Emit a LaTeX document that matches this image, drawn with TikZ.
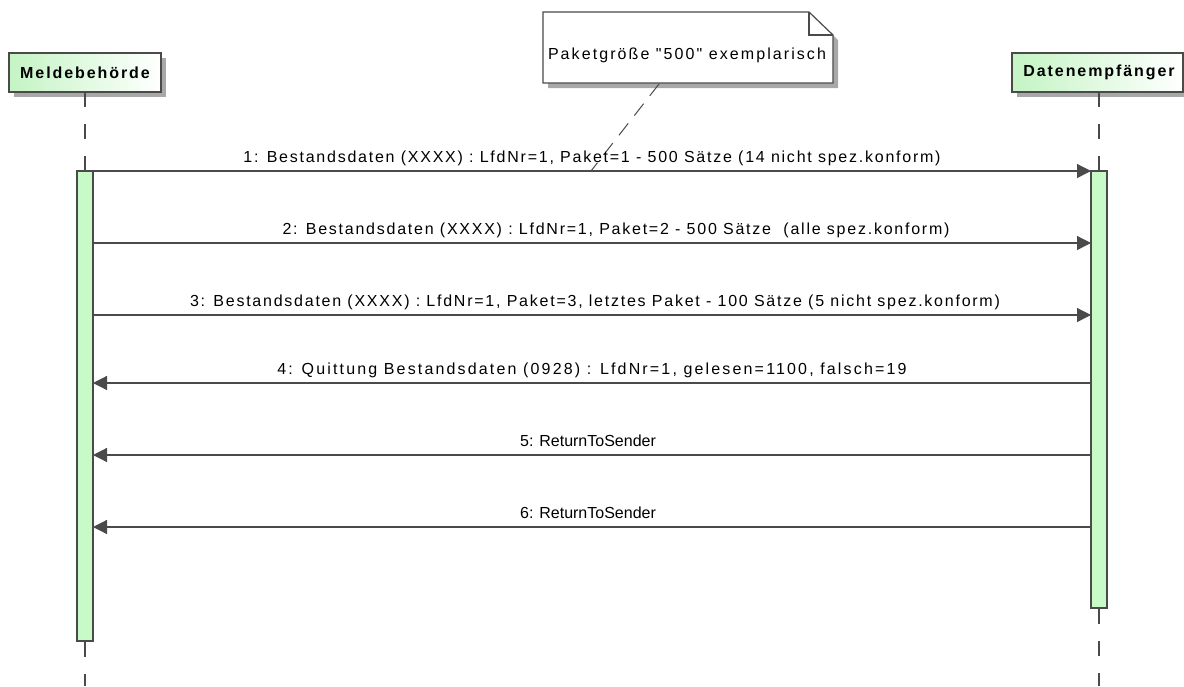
\documentclass[tikz,border=0pt]{standalone}
\usepackage{fontspec}
\setmainfont{Liberation Sans}
\newfontfamily\msgfont[LetterSpace=11]{Liberation Sans}
\newfontfamily\msgwidefont[LetterSpace=13.5]{Liberation Sans}
\newfontfamily\msgplainfont{Liberation Sans}
\newfontfamily\notefont[LetterSpace=13]{Liberation Sans}
\newfontfamily\hdrfont[LetterSpace=12]{Liberation Sans Bold}
\usetikzlibrary{arrows.meta}
\definecolor{lncol}{HTML}{4A4A4A}
\definecolor{actfill}{HTML}{C8FAC8}
\definecolor{hdrgreen}{HTML}{C4F4C4}
\definecolor{shadowcol}{HTML}{A8A8A8}
\tikzset{
  lifeline/.style={draw=lncol, line width=1.2pt, dash pattern=on 15pt off 17pt},
  actbox/.style={draw=lncol, fill=actfill, line width=1.2pt},
  msg/.style={draw=lncol, line width=1.2pt, -{Triangle[length=14pt,width=14pt]}},
  msglabel/.style={font=\msgfont\fontsize{16}{18}\selectfont, anchor=base, inner sep=0pt},
  hdrlabel/.style={font=\hdrfont\fontsize{16}{18}\selectfont, inner sep=0pt},
  notelink/.style={draw=lncol, line width=1pt, dash pattern=on 15pt off 10pt},
}
\begin{document}
\begin{tikzpicture}[x=1pt,y=-1pt]
\useasboundingbox (0,0) rectangle (1184,686);
% ---- left header ----
\fill[shadowcol] (14,58) rectangle (166,97);
\shade[left color=hdrgreen, right color=white] (9,53) rectangle (161,92);
\draw[lncol, line width=1.2pt] (9,53) rectangle (161,92);
\node[hdrlabel] (mbh) at (85,72.5) {Meldebehörde};
% ---- right header ----
\fill[shadowcol] (1017,58) rectangle (1188,97);
\shade[left color=hdrgreen, right color=white] (1012,53) rectangle (1183,92);
\draw[lncol, line width=1.2pt] (1012,53) rectangle (1183,92);
\node[hdrlabel] (dem) at (1099,72.5) {Datenempfänger};
% ---- lifelines ----
\coordinate (lt) at (85,92);
\coordinate (lb) at (85,686);
\coordinate (rt) at (1099,92);
\coordinate (rb) at (1099,686);
\draw[lifeline] (lt) -- (85,171);
\draw[lifeline] (85,642) -- (lb);
\draw[lifeline] (rt) -- (1099,171);
\draw[lifeline] (1099,609) -- (rb);
% ---- activations ----
\draw[actbox] (77,171) rectangle (93,641);
\draw[actbox] (1091,171) rectangle (1107,608);
\coordinate (L1) at (93,171); \coordinate (R1) at (1091,171);
\coordinate (L2) at (93,243); \coordinate (R2) at (1091,243);
\coordinate (L3) at (93,315); \coordinate (R3) at (1091,315);
\coordinate (L4) at (93,383); \coordinate (R4) at (1091,383);
\coordinate (L5) at (93,455); \coordinate (R5) at (1091,455);
\coordinate (L6) at (93,527); \coordinate (R6) at (1091,527);
% ---- note ----
\fill[shadowcol] (548,17) -- (814,17) -- (838,40) -- (838,88) -- (548,88) -- cycle;
\draw[lncol, line width=1.2pt, fill=white] (543,12) -- (809,12) -- (833,35) -- (833,83) -- (543,83) -- cycle;
\draw[lncol, line width=1.2pt] (809,12) -- (809,35) -- (833,35);
\node[font=\notefont\fontsize{16}{18}\selectfont, inner sep=0pt] (note) at (687,55) {Paketgröße "500" exemplarisch};
\coordinate (nl) at (659,84);
\coordinate (nm) at (591,171);
\draw[notelink] (nl) -- (nm);
% ---- messages ----
\draw[msg] (L1) -- (R1);
\node[msglabel] (m1) at (592,162) {1: Bestandsdaten (XXXX) : LfdNr=1, Paket=1 - 500 Sätze (14 nicht spez.konform)};
\draw[msg] (L2) -- (R2);
\node[msglabel] (m2) at (616,234) {2: Bestandsdaten (XXXX) : LfdNr=1, Paket=2 - 500 Sätze \ (alle spez.konform)};
\draw[msg] (L3) -- (R3);
\node[msglabel] (m3) at (595,306) {3: Bestandsdaten (XXXX) : LfdNr=1, Paket=3, letztes Paket - 100 Sätze (5 nicht spez.konform)};
\draw[msg] (R4) -- (L4);
\node[msglabel, font=\msgwidefont\fontsize{16}{18}\selectfont] (m4) at (592,374) {4: Quittung Bestandsdaten (0928) : LfdNr=1, gelesen=1100, falsch=19};
\draw[msg] (R5) -- (L5);
\node[msglabel, font=\msgplainfont\fontsize{16}{18}\selectfont] (m5) at (588,446) {5: ReturnToSender};
\draw[msg] (R6) -- (L6);
\node[msglabel, font=\msgplainfont\fontsize{16}{18}\selectfont] (m6) at (588,518) {6: ReturnToSender};
\end{tikzpicture}
\end{document}
